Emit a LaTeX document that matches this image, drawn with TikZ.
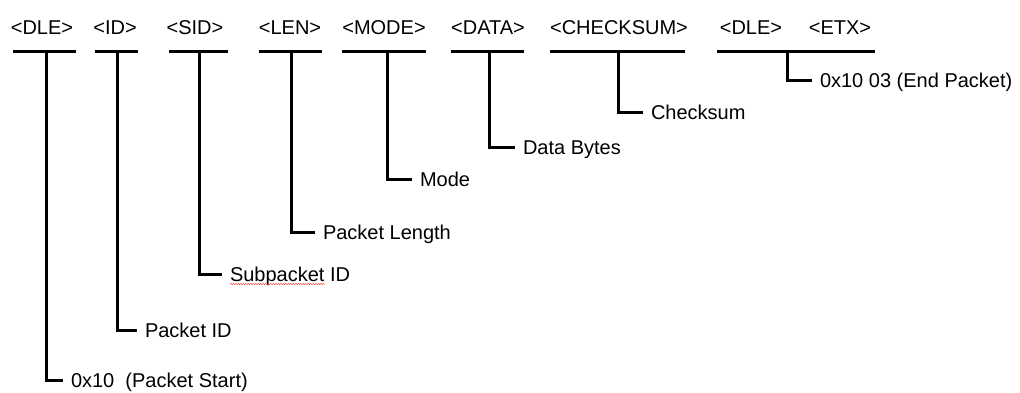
\documentclass[tikz,border=0pt]{standalone}
\usepackage{fontspec}
\setmainfont{Liberation Sans}
\usepackage{tikz}
\usetikzlibrary{decorations.pathmorphing}
\tikzset{
  pkt_t/.style = {inner sep=0pt, text height=14pt, text depth=0pt,
    font=\fontsize{20}{24}\selectfont},
  pkt_f/.style = {pkt_t, anchor=center},% champ du paquet
  pkt_d/.style = {pkt_t, anchor=west, outer xsep=8pt},% description
  pkt_l/.style = {draw=black, line width=3pt},% trait
  pkt_s/.style = {draw=red!70, line width=0.5pt,
    decorate, decoration={snake, amplitude=0.7pt, segment length=2.5pt}}% soulignement
}
\usepackage{xcolor}

\begin{document}
\begin{tikzpicture}[x=1pt,y=-1pt]
    \useasboundingbox (0,0) rectangle (1020,392);
    % champs
    \node [pkt_f] (fDLE)  at (42,27)  {<DLE>};
    \node [pkt_f] (fID)   at (115,27) {<ID>};
    \node [pkt_f] (fSID)  at (195,27) {<SID>};
    \node [pkt_f] (fLEN)  at (290,27) {<LEN>};
    \node [pkt_f] (fMODE) at (384,27) {<MODE>};
    \node [pkt_f] (fDATA) at (488,27) {<DATA>};
    \node [pkt_f] (fCHK)  at (619,27) {<CHECKSUM>};
    \node [pkt_f] (fDLE2) at (751,27) {<DLE>};
    \node [pkt_f] (fETX)  at (840,27) {<ETX>};
    % barres
    \draw [pkt_l] (13,51)  -- (76,51);
    \draw [pkt_l] (95,51)  -- (138,51);
    \draw [pkt_l] (169,51) -- (228,51);
    \draw [pkt_l] (259,51) -- (322,51);
    \draw [pkt_l] (342,51) -- (426,51);
    \draw [pkt_l] (451,51) -- (524,51);
    \draw [pkt_l] (550,51) -- (685,51);
    \draw [pkt_l] (717,51) -- (875,51);
    \coordinate (cDLE)  at (46,51);
    \coordinate (cID)   at (117,51);
    \coordinate (cSID)  at (199,51);
    \coordinate (cLEN)  at (291,51);
    \coordinate (cMODE) at (387,51);
    \coordinate (cDATA) at (489,51);
    \coordinate (cCHK)  at (618,51);
    \coordinate (cETX)  at (787,51);
    % descriptions
    \node [pkt_d] (dStart) at (63,380)  {0x10\ \ (Packet Start)};
    \node [pkt_d] (dID)    at (137,330) {Packet ID};
    \node [pkt_d] (dSID)   at (222,274) {Subpacket ID};
    \node [pkt_d] (dLEN)   at (315,232) {Packet Length};
    \node [pkt_d] (dMODE)  at (412,179) {Mode};
    \node [pkt_d] (dDATA)  at (515,147) {Data Bytes};
    \node [pkt_d] (dCHK)   at (643,112) {Checksum};
    \node [pkt_d] (dEnd)   at (812,80)  {0x10 03 (End Packet)};
    % liens
    \draw [pkt_l] (cDLE)  |- (dStart);
    \draw [pkt_l] (cID)   |- (dID);
    \draw [pkt_l] (cSID)  |- (dSID);
    \draw [pkt_l] (cLEN)  |- (dLEN);
    \draw [pkt_l] (cMODE) |- (dMODE);
    \draw [pkt_l] (cDATA) |- (dDATA);
    \draw [pkt_l] (cCHK)  |- (dCHK);
    \draw [pkt_l] (cETX)  |- (dEnd);
    \draw [pkt_s] (230,284) -- (325,284);
\end{tikzpicture}
\end{document}
